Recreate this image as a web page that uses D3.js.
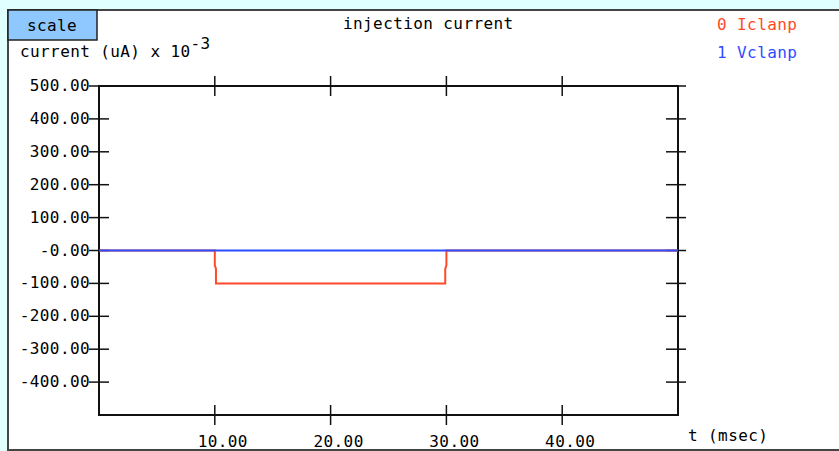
<!DOCTYPE html>
<html>
<head>
<meta charset="utf-8">
<script src="https://cdn.jsdelivr.net/npm/d3@7"></script>
<style>
  body { margin: 0; background: #e0ffff; }
  text { font-family: "DejaVu Sans Mono", monospace; font-size: 16px; letter-spacing: 0.4px; }
</style>
</head>
<body>
<div id="chart"></div>
<script>
// data
const iclampT = [0, 10, 10, 10.1, 10.1, 29.9, 29.9, 30, 30, 50];
const iclampV = [0, 0, -45, -55, -100, -100, -55, -45, 0, 0];
const vclampT = [0, 50];
const vclampV = [0, 0];
const xTicks = [10, 20, 30, 40];
const xTickLabels = ["10.00", "20.00", "30.00", "40.00"];
const yTicks = [500, 400, 300, 200, 100, 0, -100, -200, -300, -400];
const yTickLabels = ["500.00", "400.00", "300.00", "200.00", "100.00", "-0.00",
  "-100.00", "-200.00", "-300.00", "-400.00"];
const seriesNames = ["0 Iclanp", "1 Vclanp"];
const seriesColors = ["#ff4a2a", "#2d4dff"];

const W = 839, H = 451;
const svg = d3.select("#chart").append("svg")
    .attr("width", W).attr("height", H);

// white panel
svg.append("rect")
    .attr("x", 8).attr("y", 10).attr("width", 840).attr("height", 440)
    .attr("fill", "#fff").attr("stroke", "#444").attr("stroke-width", 2);

// scale button
svg.append("rect")
    .attr("x", 8).attr("y", 10).attr("width", 89).attr("height", 30)
    .attr("fill", "#8ec8ff").attr("stroke", "#222").attr("stroke-width", 1.5);
svg.append("text").attr("x", 52).attr("y", 31).attr("text-anchor", "middle").text("scale");

svg.append("text").attr("x", 343).attr("y", 29).text("injection current");

const ylab = svg.append("text").attr("x", 20).attr("y", 57);
ylab.append("tspan").text("current (uA) x 10");
ylab.append("tspan").attr("dy", -8).text("-3");

svg.selectAll(".legend")
    .data(seriesNames)
    .join("text")
    .attr("x", 717)
    .attr("y", (d, i) => 30 + i * 28)
    .attr("fill", (d, i) => seriesColors[i])
    .text(d => d);

const x = d3.scaleLinear().domain([0, 50]).range([99, 678]);
const y = d3.scaleLinear().domain([-500, 500]).range([415, 86]);

// frame
svg.append("rect")
    .attr("x", x(0)).attr("y", y(500))
    .attr("width", x(50) - x(0)).attr("height", y(-500) - y(500))
    .attr("fill", "none").attr("stroke", "#111").attr("stroke-width", 2);

// ticks crossing the frame
const g = svg.append("g").attr("stroke", "#111").attr("stroke-width", 1.5);
xTicks.forEach(t => {
    g.append("line").attr("x1", x(t)).attr("x2", x(t)).attr("y1", y(500) - 10).attr("y2", y(500) + 10);
    g.append("line").attr("x1", x(t)).attr("x2", x(t)).attr("y1", y(-500) - 10).attr("y2", y(-500) + 10);
});
yTicks.forEach(v => {
    g.append("line").attr("x1", x(0) - 10).attr("x2", x(0) + 10).attr("y1", y(v)).attr("y2", y(v));
    g.append("line").attr("x1", x(50) - 12).attr("x2", x(50) + 8).attr("y1", y(v)).attr("y2", y(v));
});

svg.selectAll(".ylab")
    .data(yTicks)
    .join("text")
    .attr("x", 90)
    .attr("y", d => y(d) + 5)
    .attr("text-anchor", "end")
    .text((d, i) => yTickLabels[i]);

svg.selectAll(".xlab")
    .data(xTicks)
    .join("text")
    .attr("x", d => x(d) + 8)
    .attr("y", 447)
    .attr("text-anchor", "middle")
    .text((d, i) => xTickLabels[i]);

svg.append("text").attr("x", 688).attr("y", 441).text("t (msec)");

// lines
const line = d3.line().x(d => x(d[0])).y(d => y(d[1]));
const series = [
    d3.zip(iclampT, iclampV),
    d3.zip(vclampT, vclampV)
];
svg.selectAll(".series")
    .data(series)
    .join("path")
    .attr("fill", "none")
    .attr("stroke", (d, i) => seriesColors[i])
    .attr("stroke-width", 2)
    .attr("d", line);
</script>
</body>
</html>
